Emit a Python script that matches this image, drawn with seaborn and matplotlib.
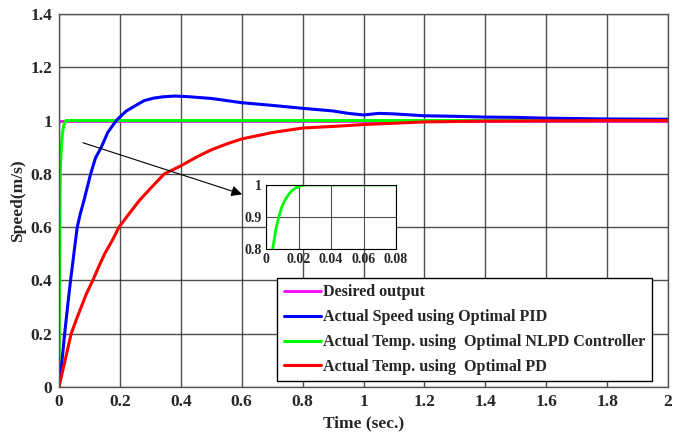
import pandas as pd
import matplotlib.pyplot as plt
import seaborn as sns

# Dados
t_pid = [0, 0.01, 0.0186, 0.03, 0.038, 0.05, 0.06, 0.07, 0.082, 0.093, 0.104, 0.12, 0.139, 0.16, 0.188,
         0.22, 0.248, 0.28, 0.31, 0.34, 0.38, 0.42, 0.5, 0.6, 0.7, 0.8, 0.9, 0.95, 1.0, 1.05, 1.1, 1.2,
         1.3, 1.4, 1.5, 1.6, 1.8, 2.0]
v_pid = [0, 0.1, 0.2, 0.32, 0.4, 0.51, 0.6, 0.65, 0.7, 0.75, 0.8, 0.86, 0.9, 0.955, 1.0,
         1.035, 1.054, 1.075, 1.084, 1.089, 1.092, 1.09, 1.083, 1.067, 1.057, 1.046, 1.036, 1.027, 1.021,
         1.027, 1.025, 1.018, 1.016, 1.013, 1.012, 1.009, 1.006, 1.005]

t_pd = [0, 0.02, 0.04, 0.056, 0.073, 0.09, 0.111, 0.13, 0.15, 0.175, 0.197, 0.23, 0.264, 0.3, 0.346,
        0.4, 0.45, 0.5, 0.55, 0.6, 0.7, 0.8, 0.9, 1.0, 1.1, 1.2, 1.4, 1.6, 1.8, 2.0]
v_pd = [0, 0.1, 0.2, 0.25, 0.3, 0.35, 0.4, 0.45, 0.5, 0.55, 0.6, 0.65, 0.7, 0.745, 0.8,
        0.83, 0.862, 0.89, 0.912, 0.931, 0.955, 0.972, 0.978, 0.985, 0.99, 0.995, 0.998, 0.999, 1.0, 1.0]

t_nlpd = [0, 0.002, 0.0041, 0.006, 0.0079, 0.0095, 0.0114, 0.0135, 0.0155, 0.018, 0.021, 0.024, 0.03, 0.08, 2.0]
v_nlpd = [0, 0.4, 0.8, 0.86, 0.9, 0.928, 0.95, 0.967, 0.98, 0.99, 0.996, 1.0, 1.0, 1.0, 1.0]

t_ref = [0, 2.0]
v_ref = [1, 1]

labels = ["Desired output",
          "Actual Speed using Optimal PID",
          "Actual Temp. using  Optimal NLPD Controller",
          "Actual Temp. using  Optimal PD"]

sns.set_style("white")
plt.rcParams['font.family'] = ['Liberation Serif', 'DejaVu Serif']
plt.rcParams['font.weight'] = 'bold'

fig = plt.figure(figsize=(6.81, 4.33), dpi=100)
ax = fig.add_axes([0.0866, 0.1062, 0.8944, 0.8615])

sns.lineplot(x=t_ref, y=v_ref, ax=ax, color='magenta', lw=2, label=labels[0])
sns.lineplot(x=t_nlpd, y=v_nlpd, ax=ax, color='#00ff00', lw=2.2, label=labels[2])
sns.lineplot(x=t_pid, y=v_pid, ax=ax, color='blue', lw=2.2, label=labels[1])
sns.lineplot(x=t_pd, y=v_pd, ax=ax, color='red', lw=2.2, label=labels[3])

ax.set_xlim(0, 2)
ax.set_ylim(0, 1.4)
ax.set_xticks([0, 0.2, 0.4, 0.6, 0.8, 1, 1.2, 1.4, 1.6, 1.8, 2])
ax.set_xticklabels(["0", "0.2", "0.4", "0.6", "0.8", "1", "1.2", "1.4", "1.6", "1.8", "2"])
ax.set_yticks([0, 0.2, 0.4, 0.6, 0.8, 1, 1.2, 1.4])
ax.set_yticklabels(["0", "0.2", "0.4", "0.6", "0.8", "1", "1.2", "1.4"])
ax.tick_params(labelsize=12.5, length=0, pad=5)
ax.grid(True, color='#222222', lw=1.0, alpha=0.8)
for s in ax.spines.values():
    s.set_color('#555555')
    s.set_linewidth(1)
ax.set_xlabel("Time (sec.)", fontsize=12.5, fontweight='bold', labelpad=4)
ax.set_ylabel("Speed(m/s)", fontsize=12.5, fontweight='bold', labelpad=3)

# legenda
h, l = ax.get_legend_handles_labels()
order = [l.index(x) for x in labels]
leg = ax.legend([h[i] for i in order], [l[i] for i in order],
                loc='upper left', bbox_to_anchor=(0.407, 0.358), bbox_transform=fig.transFigure,
                prop={'size': 11.6, 'weight': 'bold'}, fancybox=False, edgecolor='black',
                framealpha=1, handlelength=2.3, handletextpad=0.15, borderpad=0.4,
                labelspacing=0.55, borderaxespad=0)
leg.get_frame().set_linewidth(1)

# seta
ax.annotate("", xy=(0.61, 0.72), xytext=(0.07, 0.92),
            arrowprops=dict(arrowstyle='-|>', color='black', lw=0.8, mutation_scale=16))

# detalhe (inset)
axin = fig.add_axes([0.3906, 0.425, 0.191, 0.148])
sns.lineplot(x=t_nlpd, y=v_nlpd, ax=axin, color='#00ff00', lw=2)
axin.set_xlim(0, 0.08)
axin.set_ylim(0.8, 1.0)
axin.set_xticks([0, 0.02, 0.04, 0.06, 0.08])
axin.set_xticklabels(["0", "0.02", "0.04", "0.06", "0.08"])
axin.set_yticks([0.8, 0.9, 1.0])
axin.set_yticklabels(["0.8", "0.9", "1"])
axin.tick_params(labelsize=10, length=0, pad=3)
axin.grid(True, color='#222222', lw=0.8, alpha=0.8)
for s in axin.spines.values():
    s.set_color('black')
    s.set_linewidth(0.8)

plt.savefig("out.png", dpi=100)
plt.close()
